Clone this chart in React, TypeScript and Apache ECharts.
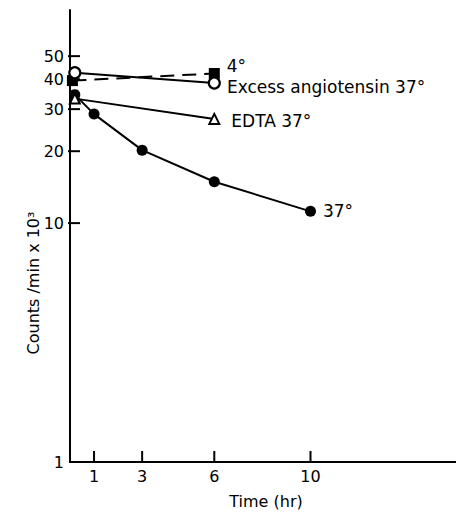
import React, { useEffect, useRef } from "react";
import * as echarts from "echarts";

// Time (hr) and counts/min x 10^3
const times37 = [0.2, 1, 3, 6, 10];
const counts37 = [34.5, 28.6, 20.2, 14.9, 11.2];
const timesEdta = [0.2, 6];
const countsEdta = [33.2, 27.3];
const timesExcess = [0.2, 6];
const countsExcess = [42.6, 38.6];
const times4 = [0.1, 6];
const counts4 = [39.5, 42.3];

const labels = ["37°", "EDTA 37°", "Excess angiotensin 37°", "4°"];
const xTicks = [1, 3, 6, 10];
const yLabelValues = [1, 10, 20, 30, 40, 50];
const yTickValues = [10, 20, 30, 40, 50];

const FONT = "DejaVu Sans";

function buildData(xs: number[], ys: number[], label: string, offset: number[]) {
  return xs.map((x, i) => {
    const item: any = { value: [x, ys[i]] };
    if (i === xs.length - 1) {
      item.label = {
        show: true,
        formatter: label,
        position: "right",
        distance: 5,
        offset,
        color: "#000",
        fontFamily: FONT,
        fontSize: 17,
      };
    }
    return item;
  });
}

export default function App() {
  const ref = useRef<HTMLDivElement>(null);
  useEffect(() => {
    if (!ref.current) return;
    const chart = echarts.init(ref.current, undefined, { renderer: "svg" });
    const lineStyle = { color: "#000", width: 2 };
    chart.setOption({
      animation: false,
      backgroundColor: "#fff",
      grid: { left: 70, right: 2, top: 10, bottom: 44 },
      xAxis: {
        type: "value",
        min: 0,
        max: 16.3,
        name: "Time (hr)",
        nameLocation: "middle",
        nameGap: 31,
        nameTextStyle: { color: "#000", fontFamily: FONT, fontSize: 16 },
        axisLine: { show: true, lineStyle: { color: "#000", width: 2 } },
        axisTick: { show: false },
        axisLabel: {
          color: "#000",
          fontFamily: FONT,
          fontSize: 16,
          margin: 6,
          customValues: xTicks,
        },
        splitLine: { show: false },
      },
      yAxis: {
        type: "log",
        logBase: 10,
        min: 1,
        max: 78,
        axisLine: { show: true, lineStyle: { color: "#000", width: 2 } },
        axisTick: { show: false },
        axisLabel: {
          color: "#000",
          fontFamily: FONT,
          fontSize: 16,
          margin: 6,
          customValues: yLabelValues,
        },
        splitLine: { show: false },
        minorTick: { show: false },
        minorSplitLine: { show: false },
      },
      graphic: [
        {
          type: "text",
          x: 33,
          y: 283,
          rotation: Math.PI / 2,
          style: {
            text: "Counts /min x 10³",
            fill: "#000",
            font: `16px "${FONT}"`,
            align: "center",
            verticalAlign: "middle",
          },
        },
      ],
      series: [
        {
          type: "custom",
          silent: true,
          data: yTickValues.map((v) => [0, v]),
          renderItem: (params: any, api: any) => {
            const p = api.coord([api.value(0), api.value(1)]);
            return {
              type: "line",
              shape: { x1: p[0] - 2, y1: p[1], x2: p[0] + 10, y2: p[1] },
              style: { stroke: "#000", lineWidth: 2 },
            };
          },
          z: 1,
        },
        {
          type: "custom",
          silent: true,
          data: xTicks.map((v) => [v, 1]),
          renderItem: (params: any, api: any) => {
            const p = api.coord([api.value(0), api.value(1)]);
            return {
              type: "line",
              shape: { x1: p[0], y1: p[1], x2: p[0], y2: p[1] - 11 },
              style: { stroke: "#000", lineWidth: 2 },
            };
          },
          z: 1,
        },
        {
          type: "line",
          data: buildData(times4, counts4, labels[3], [2, -7]),
          symbol: "rect",
          symbolSize: 11,
          itemStyle: { color: "#000" },
          lineStyle: { color: "#000", width: 2, type: [14, 8] },
          z: 2,
        },
        {
          type: "line",
          data: buildData(timesExcess, countsExcess, labels[2], [1, 4]),
          symbol: "circle",
          symbolSize: 11,
          itemStyle: { color: "#fff", borderColor: "#000", borderWidth: 2.2 },
          lineStyle,
          z: 3,
        },
        {
          type: "line",
          data: buildData(timesEdta, countsEdta, labels[1], [6, 2]),
          symbol: "triangle",
          symbolSize: 10,
          itemStyle: { color: "#fff", borderColor: "#000", borderWidth: 2 },
          lineStyle,
          z: 3,
        },
        {
          type: "line",
          data: buildData(times37, counts37, labels[0], [2, 0]),
          symbol: "circle",
          symbolSize: 11,
          itemStyle: { color: "#000" },
          lineStyle,
          z: 2,
        },
      ],
    });
    return () => chart.dispose();
  }, []);
  return <div ref={ref} style={{ width: 464, height: 514, marginLeft: -8, marginTop: -8 }} />;
}
